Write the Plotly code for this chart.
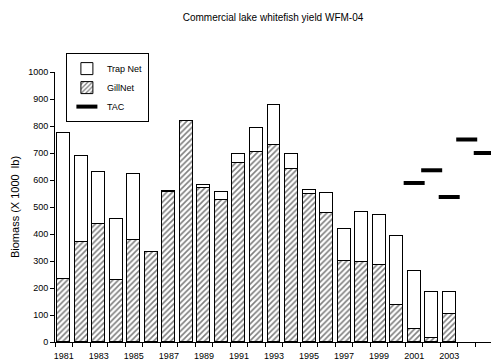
import plotly.graph_objects as go

# Yield data (X 1000 lb)
years = list(range(1981, 2004))
gillnet = [232, 370, 437, 230, 376, 333, 556, 820, 570, 527, 663, 705, 731, 640,
           550, 479, 301, 298, 284, 137, 47, 16, 103]
total = [775, 688, 629, 454, 622, 335, 558, 820, 582, 557, 695, 794, 878, 696,
         562, 552, 417, 481, 471, 392, 264, 185, 186]
trapnet = [t - g for t, g in zip(total, gillnet)]

tac_years = [2001, 2002, 2003, 2004, 2005]
tac = [589, 636, 537, 750, 700]

label_years = list(range(1981, 2006, 2))

FONT = "Liberation Sans, Arial"

fig = go.Figure()

# Gill net at the bottom of each stack, hatched
fig.add_trace(go.Bar(
    x=years, y=gillnet, name="GillNet", legendrank=2,
    width=0.74,
    marker=dict(
        color="white",
        line=dict(color="black", width=1),
        pattern=dict(shape="/", fgcolor="black", bgcolor="white", size=4, solidity=0.4),
    ),
))

# Trap net stacked on top, plain white
fig.add_trace(go.Bar(
    x=years, y=trapnet, name="Trap Net", legendrank=1,
    width=0.74,
    marker=dict(color="white", line=dict(color="black", width=1)),
))

# TAC as short thick dashes
fig.add_trace(go.Scatter(
    x=tac_years, y=tac, name="TAC", legendrank=3,
    mode="markers", cliponaxis=False,
    marker=dict(symbol="line-ew", size=15, line=dict(color="black", width=4)),
))

fig.update_layout(
    width=491, height=362,
    barmode="stack",
    bargap=0,
    plot_bgcolor="white",
    paper_bgcolor="white",
    font=dict(family=FONT, size=9, color="black"),
    margin=dict(l=55, r=0, t=72, b=20),
    title=dict(
        text="Commercial lake whitefish yield WFM-04",
        x=0.5, xanchor="center", xref="paper",
        y=0.952, yanchor="middle",
        font=dict(family=FONT, size=10, color="black"),
    ),
    showlegend=True,
    legend=dict(
        traceorder="normal",
        x=0.025, y=1.07, xanchor="left", yanchor="top",
        bgcolor="white", bordercolor="black", borderwidth=1,
        font=dict(family=FONT, size=9, color="black"),
        itemwidth=30,
    ),
)

fig.update_xaxes(
    range=[1980.5, 2005.386],
    automargin=False,
    tickmode="array",
    tickvals=label_years,
    ticktext=[str(y) for y in label_years],
    ticks="outside", ticklen=0,
    ticklabelstandoff=5,
    tickfont=dict(family=FONT, size=9),
    showline=True, linecolor="black", linewidth=1,
    showgrid=False, zeroline=False,
    minor=dict(
        tickmode="array",
        tickvals=[y + 0.5 for y in range(1980, 2006)],
        ticks="outside", ticklen=4, tickcolor="black", tickwidth=1,
        showgrid=False,
    ),
)

fig.update_yaxes(
    range=[0, 1000],
    automargin=False,
    dtick=100,
    ticks="outside", ticklen=4, tickcolor="black",
    tickfont=dict(family=FONT, size=9),
    showline=True, linecolor="black", linewidth=1,
    showgrid=False, zeroline=False,
    title=dict(text="Biomass (X 1000  lb)", font=dict(family=FONT, size=11), standoff=6),
)

# drop the default page margin so the figure sits at the window corner
fig.write_html(
    "out.html",
    config={"displayModeBar": False},
    post_script="document.body.style.margin='0';",
)
